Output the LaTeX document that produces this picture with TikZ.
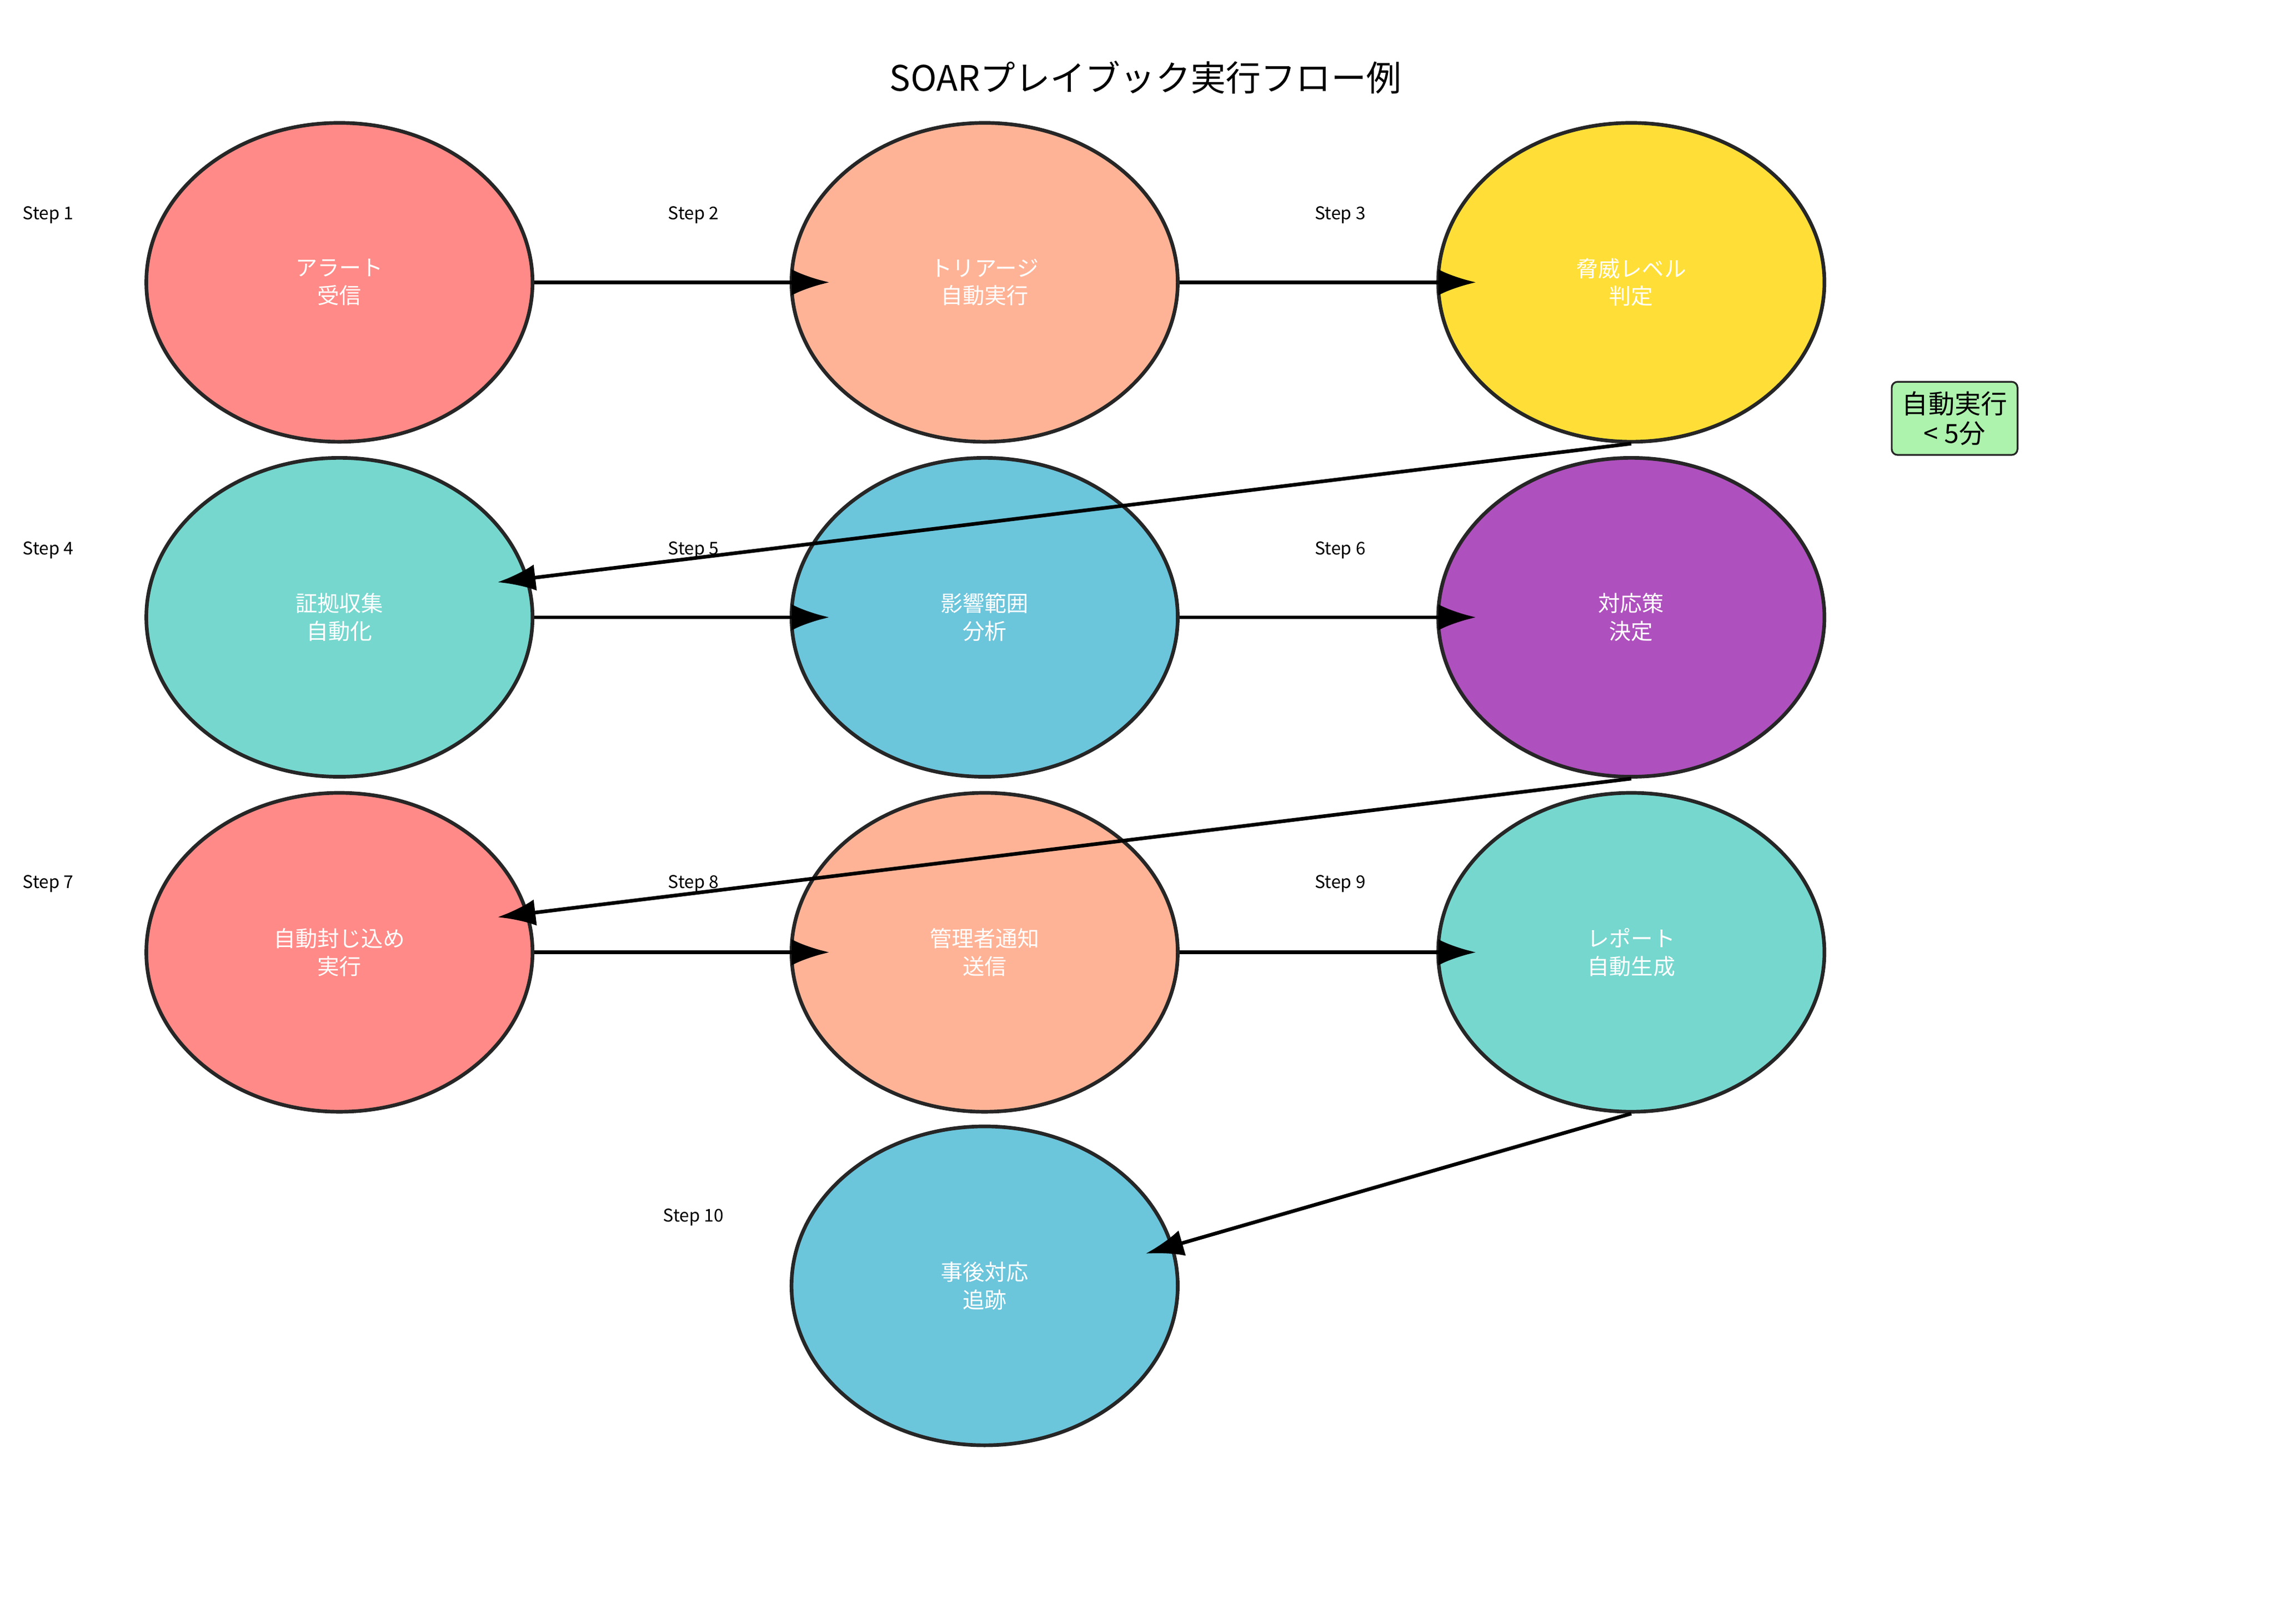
\documentclass[tikz,border=0pt]{standalone}
\usepackage{fontspec}
\setmainfont{Noto Sans CJK JP}
\usetikzlibrary{arrows.meta,shapes.geometric}
\definecolor{cred}{HTML}{FF8A87}
\definecolor{csalmon}{HTML}{FFB396}
\definecolor{cyellow}{HTML}{FFDF37}
\definecolor{cteal}{HTML}{76D7CE}
\definecolor{cblue}{HTML}{6BC5DB}
\definecolor{cpurple}{HTML}{AE50BD}
\definecolor{cgreen}{HTML}{ADF2AD}
\tikzset{
  stepnode/.style={ellipse, draw=black!85, line width=2.5pt, minimum width=264pt,
    minimum height=218pt, inner sep=0pt, text=white, align=center,
    font=\fontsize{15pt}{19pt}\selectfont},
  steplabel/.style={font=\fontsize{12pt}{14pt}\selectfont},
  flow/.style={line width=2.5pt, -{Latex[length=26pt,width=18pt]}}
}
\begin{document}
\begin{tikzpicture}[x=1pt,y=-1pt]
    \useasboundingbox (0,0) rectangle (1555,1110);
    \node[font=\fontsize{24pt}{28pt}\selectfont] (title) at (783,53) {SOARプレイブック実行フロー例};

    \node[stepnode, fill=cred] (e1) at (232,193) {アラート\\受信};
    \node[stepnode, fill=csalmon] (e2) at (673,193) {トリアージ\\自動実行};
    \node[stepnode, fill=cyellow] (e3) at (1115,193) {脅威レベル\\判定};
    \node[stepnode, fill=cteal] (e4) at (232,422) {証拠収集\\自動化};
    \node[stepnode, fill=cblue] (e5) at (673,422) {影響範囲\\分析};
    \node[stepnode, fill=cpurple] (e6) at (1115,422) {対応策\\決定};
    \node[stepnode, fill=cred] (e7) at (232,651) {自動封じ込め\\実行};
    \node[stepnode, fill=csalmon] (e8) at (673,651) {管理者通知\\送信};
    \node[stepnode, fill=cteal] (e9) at (1115,651) {レポート\\自動生成};
    \node[stepnode, fill=cblue] (e10) at (673,879) {事後対応\\追跡};

    \node[steplabel] (s1) at (33,147) {Step 1};
    \node[steplabel] (s2) at (474,147) {Step 2};
    \node[steplabel] (s3) at (916,147) {Step 3};
    \node[steplabel] (s4) at (33,376) {Step 4};
    \node[steplabel] (s5) at (474,376) {Step 5};
    \node[steplabel] (s6) at (916,376) {Step 6};
    \node[steplabel] (s7) at (33,604) {Step 7};
    \node[steplabel] (s8) at (474,604) {Step 8};
    \node[steplabel] (s9) at (916,604) {Step 9};
    \node[steplabel] (s10) at (474,832) {Step 10};

    \node[draw=black!85, line width=1.2pt, fill=cgreen, rounded corners=4pt, align=center,
      minimum width=86pt, minimum height=50pt, inner sep=2pt,
      font=\fontsize{18pt}{20pt}\selectfont] (auto) at (1336,286) {自動実行\\< 5分};

    % free ends of the connectors
    \coordinate (t2) at (567,193);
    \coordinate (t3) at (1009,193);
    \coordinate (t4) at (340,398);
    \coordinate (t5) at (567,422);
    \coordinate (t6) at (1009,422);
    \coordinate (t7) at (340,627);
    \coordinate (t8) at (567,651);
    \coordinate (t9) at (1009,651);
    \coordinate (t10) at (783,857);

    \draw[flow] (e1.east) -- (t2);
    \draw[flow] (e2.east) -- (t3);
    \draw[flow] (e3.south) -- (t4);
    \draw[flow] (e4.east) -- (t5);
    \draw[flow] (e5.east) -- (t6);
    \draw[flow] (e6.south) -- (t7);
    \draw[flow] (e7.east) -- (t8);
    \draw[flow] (e8.east) -- (t9);
    \draw[flow] (e9.south) -- (t10);
\end{tikzpicture}
\end{document}
